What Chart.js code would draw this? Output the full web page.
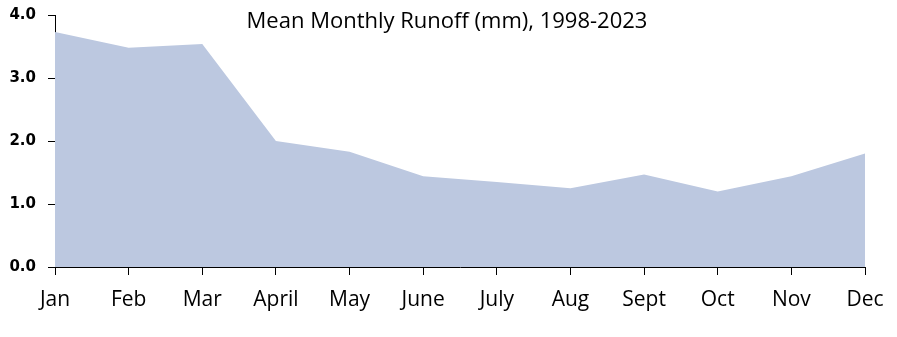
<!DOCTYPE html>
<html>
<head>
<meta charset="utf-8">
<script src="https://cdn.jsdelivr.net/npm/chart.js@4/dist/chart.umd.min.js"></script>
<style>
  html, body { margin: 0; padding: 0; background: #fff; }
  canvas { display: block; }
</style>
</head>
<body>
<canvas id="runoff" width="897" height="337"></canvas>
<script>
// Mean monthly runoff (mm)
const months = ['Jan', 'Feb', 'Mar', 'April', 'May', 'June', 'July', 'Aug', 'Sept', 'Oct', 'Nov', 'Dec'];
const runoff = [3.73, 3.48, 3.54, 2.0, 1.83, 1.44, 1.35, 1.25, 1.47, 1.2, 1.44, 1.8];
const yTicks = [0, 1, 2, 3, 4];
const titleText = 'Mean Monthly Runoff (mm), 1998-2023';

const FONT = "'Open Sans', 'Liberation Sans', sans-serif";

// Title sits inside the plot area, so draw it by hand
const titleInside = {
  id: 'titleInside',
  afterDraw(chart) {
    const ctx = chart.ctx;
    ctx.save();
    ctx.font = '22px ' + FONT;
    ctx.fillStyle = '#000';
    ctx.textAlign = 'center';
    ctx.textBaseline = 'alphabetic';
    ctx.fillText(titleText, 447, 28);
    ctx.restore();
  },
};

new Chart(document.getElementById('runoff').getContext('2d'), {
  type: 'line',
  data: {
    labels: months,
    datasets: [
      {
        data: runoff,
        fill: 'origin',
        backgroundColor: '#bcc8e0',
        borderWidth: 0,
        pointRadius: 0,
        tension: 0,
      },
    ],
  },
  options: {
    responsive: false,
    animation: false,
    layout: { padding: { top: 15, right: 32, left: 0, bottom: 0 } },
    plugins: {
      legend: { display: false },
      tooltip: { enabled: false },
    },
    scales: {
      x: {
        offset: false,
        afterFit: (scale) => { scale.height = 70; },
        border: { color: '#000', width: 1 },
        grid: { drawOnChartArea: false, color: '#000', tickLength: 8 },
        ticks: {
          color: '#000',
          padding: 12,
          maxRotation: 0,
          font: { family: FONT, size: 21 },
        },
      },
      y: {
        min: 0,
        max: 4,
        afterFit: (scale) => { scale.width = 55; scale.paddingTop = 0; scale.paddingBottom = 0; },
        afterBuildTicks: (scale) => { scale.ticks = yTicks.map((v) => ({ value: v })); },
        border: { color: '#000', width: 1 },
        grid: { drawOnChartArea: false, color: '#000', tickLength: 7 },
        ticks: {
          color: '#000',
          padding: 12,
          font: { family: "'DejaVu Sans', sans-serif", size: 15, weight: 'bold', lineHeight: 1 },
          callback: (value) => value.toFixed(1),
        },
      },
    },
  },
  plugins: [titleInside],
});
</script>
</body>
</html>
